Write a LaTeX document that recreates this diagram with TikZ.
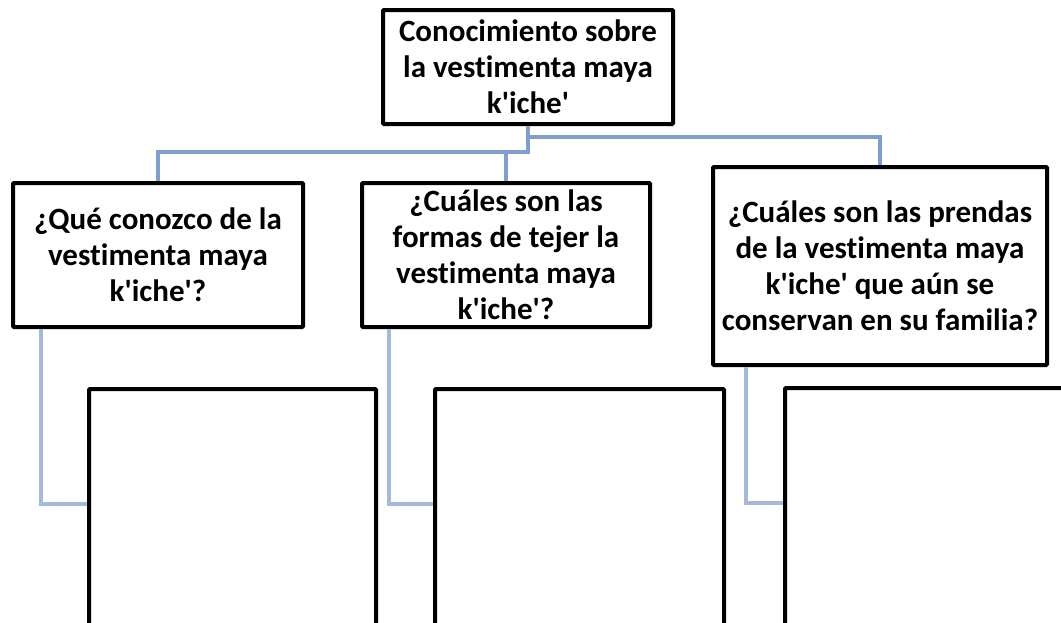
\documentclass[tikz,border=0pt]{standalone}
\usepackage{fontspec}
\setmainfont{Carlito}[Ligatures=NoCommon]
\newcommand\ap{\textquotesingle}
\begin{document}
\begin{tikzpicture}[x=1pt,y=-1pt,
  box/.style={draw=black, line width=4pt, fill=white, rounded corners=1pt, inner sep=0pt, align=center,
    font=\fontsize{31}{36}\selectfont\bfseries},
  conn/.style={draw={rgb,255:red,128;green,158;blue,206}, line width=4pt},
  conn2/.style={draw={rgb,255:red,166;green,185;blue,219}, line width=4pt}]
\useasboundingbox (0,0) rectangle (1061,622);
\clip (0,0) rectangle (1061,622);
% main boxes
\node[box, minimum width=290pt, minimum height=114pt] (top) at (528,67)
  {Conocimiento sobre\\la vestimenta maya\\k\ap iche\ap};
\node[box, minimum width=290pt, minimum height=144pt] (L) at (158,255)
  {¿Qué conozco de la\\vestimenta maya\\k\ap iche\ap ?};
\node[box, minimum width=288pt, minimum height=144pt] (M) at (506,255)
  {¿Cuáles son las\\formas de tejer la\\vestimenta maya\\k\ap iche\ap ?};
\node[box, minimum width=334pt, minimum height=198pt] (R) at (880,266)
  {¿Cuáles son las prendas\\de la vestimenta maya\\k\ap iche\ap{} que aún se\\conservan en su familia?};
% lower boxes
\node[box, anchor=north west, minimum width=287pt, minimum height=260pt] (L2) at (87,387) {};
\node[box, anchor=north west, minimum width=289pt, minimum height=260pt] (M2) at (433,387) {};
\node[box, anchor=north west, minimum width=300pt, minimum height=260pt] (R2) at (783,386) {};
% junctions
\coordinate (j1) at (528,152);
\coordinate (j2) at (528,137);
\draw[conn] (top.south) -- (j1) -| (L.north);
\draw[conn] (j1) -| (M.north);
\draw[conn] (j2) -| (R.north);
% lower connectors
\coordinate (la) at ([xshift=30pt]L.south west);
\coordinate (ma) at ([xshift=29pt]M.south west);
\coordinate (ra) at ([xshift=35pt]R.south west);
\draw[conn2] (la) |- ([yshift=-117pt]L2.north west);
\draw[conn2] (ma) |- ([yshift=-117pt]M2.north west);
\draw[conn2] (ra) |- ([yshift=-117pt]R2.north west);
\end{tikzpicture}
\end{document}
